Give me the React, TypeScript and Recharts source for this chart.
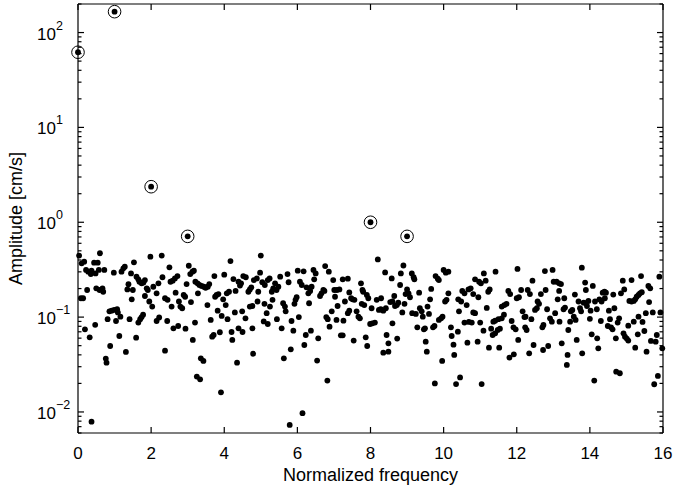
import React from 'react';
import { ScatterChart, Scatter, XAxis, YAxis } from 'recharts';

const FONT = '"Liberation Sans", Arial, Helvetica, sans-serif';

const xTicks = [0, 2, 4, 6, 8, 10, 12, 14, 16];
const yMajorTicks = [0.01, 0.1, 1, 10, 100];
const yAllTicks = [
  0.006, 0.007, 0.008, 0.009, 0.01,
  0.02, 0.03, 0.04, 0.05, 0.06, 0.07, 0.08, 0.09, 0.1,
  0.2, 0.3, 0.4, 0.5, 0.6, 0.7, 0.8, 0.9, 1,
  2, 3, 4, 5, 6, 7, 8, 9, 10,
  20, 30, 40, 50, 60, 70, 80, 90, 100, 200,
];

// [normalized frequency, amplitude cm/s]
const band0to2: [number, number][] = [
  [0.03,0.445],[0.10,0.369],[0.17,0.384],[0.08,0.158],[0.14,0.158],[0.19,0.0743],[0.25,0.193],[0.22,0.314],[0.28,0.301],[0.35,0.284],[0.37,0.309],[0.32,0.0612],[0.44,0.375],[0.54,0.375],[0.48,0.289],[0.57,0.314],[0.47,0.083],[0.50,0.201],[0.59,0.193],[0.67,0.201],[0.69,0.185],[0.60,0.471],[0.72,0.314],[0.76,0.0365],[0.78,0.0331],[0.81,0.095],[0.86,0.115],[0.92,0.117],[0.99,0.119],[1.07,0.121],[1.09,0.112],[1.16,0.101],[0.88,0.0496],[0.98,0.294],[1.04,0.091],[1.13,0.0632],[1.19,0.301],[1.24,0.327],[1.28,0.340],[1.31,0.0429],[1.35,0.196],[1.38,0.222],[1.41,0.095],[1.47,0.154],[1.50,0.193],[1.53,0.378],[1.45,0.289],[1.59,0.0607],[1.60,0.267],[1.65,0.250],[1.68,0.236],[1.74,0.227],[1.79,0.231],[1.83,0.246],[1.65,0.0875],[1.70,0.095],[1.74,0.100],[1.78,0.106],[1.83,0.167],[1.88,0.201],[1.91,0.193],[1.95,0.146],[1.98,0.434],[2.03,0.129],[2.06,0.209],[0.37,0.0079],
];
const band2to5: [number, number][] = [
  [2.29,0.445],[2.20,0.227],[2.31,0.263],[2.15,0.178],[2.38,0.158],[2.45,0.152],[2.56,0.129],[2.22,0.099],[2.15,0.091],[2.44,0.091],[2.50,0.335],[2.38,0.0443],[2.53,0.236],[2.59,0.242],[2.65,0.256],[2.72,0.271],[2.61,0.0762],[2.74,0.0806],[2.94,0.0756],[2.67,0.181],[2.76,0.146],[2.80,0.129],[2.85,0.124],[2.89,0.171],[2.93,0.164],[2.97,0.223],[3.03,0.348],[3.07,0.284],[3.13,0.301],[3.17,0.309],[3.09,0.144],[3.14,0.0574],[3.20,0.0875],[3.21,0.236],[3.27,0.227],[3.32,0.218],[3.38,0.213],[3.44,0.209],[3.49,0.204],[3.55,0.209],[3.59,0.223],[3.28,0.178],[3.36,0.0368],[3.43,0.0345],[3.25,0.0236],[3.34,0.0221],[3.54,0.134],[3.63,0.0933],[3.67,0.0622],[3.71,0.0648],[3.73,0.271],[3.75,0.164],[3.79,0.171],[3.84,0.175],[3.82,0.117],[3.88,0.0692],[3.93,0.103],[3.91,0.0161],[3.97,0.154],[4.00,0.280],[4.04,0.134],[4.07,0.178],[4.13,0.185],[4.09,0.095],[4.17,0.390],[4.20,0.0697],[4.22,0.0574],[4.25,0.252],[4.29,0.112],[4.31,0.189],[4.35,0.0331],[4.39,0.236],[4.43,0.215],[4.46,0.227],[4.39,0.0762],[4.49,0.115],[4.50,0.0697],[4.52,0.271],[4.59,0.263],[4.58,0.097],[4.66,0.185],[4.70,0.196],[4.74,0.206],[4.70,0.129],[4.77,0.131],[4.77,0.0762],[4.79,0.0411],[4.81,0.246],
];
const band5to7: [number, number][] = [
  [5.00,0.445],[4.98,0.294],[4.89,0.256],[4.93,0.185],[4.91,0.146],[5.04,0.233],[5.11,0.218],[5.19,0.246],[5.24,0.256],[5.10,0.138],[5.16,0.110],[5.25,0.129],[5.08,0.090],[5.19,0.0846],[5.30,0.185],[5.34,0.201],[5.39,0.227],[5.43,0.193],[5.48,0.209],[5.53,0.267],[5.32,0.152],[5.44,0.095],[5.57,0.0762],[5.61,0.140],[5.66,0.129],[5.68,0.115],[5.63,0.0368],[5.73,0.284],[5.76,0.233],[5.82,0.0457],[5.84,0.091],[5.89,0.0720],[5.92,0.138],[5.95,0.152],[5.98,0.162],[6.01,0.309],[6.17,0.304],[6.04,0.100],[6.07,0.236],[6.12,0.218],[6.14,0.0097],[5.79,0.0073],[6.19,0.0508],[6.23,0.0648],[6.25,0.206],[6.30,0.178],[6.35,0.189],[6.39,0.209],[6.32,0.140],[6.37,0.0720],[6.44,0.314],[6.50,0.289],[6.46,0.250],[6.54,0.0348],[6.57,0.0598],[6.62,0.167],[6.66,0.178],[6.71,0.193],[6.74,0.189],[6.76,0.345],[6.79,0.100],[6.83,0.095],[6.86,0.301],[6.88,0.0793],[6.82,0.0214],[6.94,0.115],[6.98,0.246],[7.01,0.193],[7.03,0.164],[7.08,0.193],[7.15,0.196],[7.07,0.0933],[7.10,0.131],[7.19,0.0643],[7.24,0.0643],[7.24,0.250],[7.38,0.254],[7.26,0.0918],[7.30,0.146],[7.38,0.110],[7.42,0.117],[7.42,0.182],[7.47,0.158],[7.51,0.154],[7.54,0.0565],[7.56,0.152],
];
const band8to10: [number, number][] = [
  [7.62,0.115],[7.67,0.101],[7.71,0.097],[7.74,0.227],[7.78,0.193],[7.80,0.185],[7.76,0.138],[7.83,0.134],[7.87,0.0612],[7.91,0.0496],[7.90,0.171],[7.94,0.158],[7.99,0.0846],[8.05,0.0860],[8.12,0.0875],[8.03,0.124],[8.17,0.152],[8.29,0.158],[8.20,0.406],[8.23,0.119],[8.28,0.121],[8.35,0.117],[8.42,0.124],[8.35,0.0422],[8.49,0.0432],[8.40,0.296],[8.44,0.0648],[8.49,0.0529],[8.54,0.144],[8.60,0.146],[8.58,0.256],[8.60,0.0860],[8.65,0.167],[8.67,0.131],[8.72,0.134],[8.76,0.142],[8.73,0.0594],[8.81,0.218],[8.83,0.289],[8.87,0.112],[8.90,0.350],[8.93,0.138],[8.96,0.175],[9.00,0.196],[9.04,0.178],[9.08,0.162],[9.13,0.289],[9.14,0.110],[9.18,0.263],[9.20,0.250],[9.24,0.108],[9.28,0.0780],[9.33,0.181],[9.35,0.124],[9.40,0.115],[9.43,0.101],[9.46,0.0743],[9.49,0.0762],[9.51,0.0551],[9.54,0.0432],[9.56,0.129],[9.60,0.108],[9.63,0.154],[9.66,0.198],[9.71,0.0780],[9.75,0.0806],[9.76,0.0200],[9.78,0.271],[9.84,0.254],[9.87,0.246],[9.87,0.0933],[9.93,0.097],[9.97,0.101],[9.96,0.0345],[10.00,0.314],[10.06,0.294],[10.13,0.301],[10.04,0.146],[10.08,0.152],[10.13,0.178],[10.20,0.0780],[10.22,0.0632],[10.27,0.0512],[10.29,0.0399],
];
const band10to13: [number, number][] = [
  [10.34,0.0197],[10.39,0.0702],[10.45,0.0231],[10.40,0.154],[10.48,0.146],[10.42,0.115],[10.51,0.189],[10.57,0.178],[10.63,0.134],[10.57,0.0875],[10.69,0.0889],[10.77,0.0875],[10.81,0.112],[10.86,0.110],[10.65,0.0538],[10.68,0.196],[10.74,0.201],[10.81,0.175],[10.86,0.250],[10.97,0.236],[11.02,0.227],[11.10,0.289],[11.15,0.242],[10.93,0.0551],[10.95,0.162],[11.00,0.0875],[11.04,0.0197],[11.09,0.0720],[11.18,0.125],[11.22,0.185],[11.26,0.196],[11.24,0.0476],[11.30,0.0756],[11.34,0.0648],[11.41,0.0675],[11.36,0.0896],[11.41,0.0918],[11.50,0.095],[11.59,0.097],[11.65,0.106],[11.42,0.301],[11.48,0.0731],[11.54,0.0756],[11.52,0.0476],[11.59,0.129],[11.66,0.134],[11.72,0.138],[11.77,0.189],[11.82,0.175],[11.80,0.0374],[11.92,0.0405],[11.86,0.091],[11.91,0.0780],[11.97,0.0743],[12.00,0.158],[12.06,0.162],[12.02,0.322],[12.04,0.0574],[12.12,0.193],[12.16,0.115],[12.21,0.100],[12.24,0.101],[12.23,0.0780],[12.27,0.0731],[12.30,0.193],[12.36,0.175],[12.34,0.0415],[12.40,0.095],[12.43,0.242],[12.46,0.0508],[12.50,0.119],[12.55,0.124],[12.57,0.146],[12.61,0.138],[12.66,0.175],[12.70,0.0780],[12.73,0.0826],[12.72,0.0450],[12.77,0.306],[12.79,0.193],[12.83,0.121],[12.86,0.0496],[12.91,0.097],[12.96,0.0896],[12.98,0.314],[13.01,0.236],
];
const band13to16: [number, number][] = [
  [13.09,0.236],[13.16,0.227],[13.21,0.223],[13.12,0.154],[13.16,0.189],[13.05,0.110],[13.17,0.0896],[13.23,0.0529],[13.28,0.121],[13.32,0.126],[13.30,0.158],[13.37,0.0313],[13.39,0.0399],[13.41,0.0731],[13.46,0.0896],[13.48,0.115],[13.52,0.119],[13.56,0.101],[13.61,0.0933],[13.59,0.173],[13.64,0.0574],[13.69,0.146],[13.73,0.124],[13.76,0.115],[13.78,0.332],[13.79,0.0415],[13.83,0.142],[13.89,0.140],[13.87,0.231],[13.89,0.193],[13.92,0.131],[13.96,0.148],[14.00,0.096],[14.02,0.117],[14.05,0.0659],[14.08,0.213],[14.12,0.0214],[14.14,0.146],[14.19,0.121],[14.20,0.0598],[14.23,0.0469],[14.26,0.154],[14.30,0.091],[14.32,0.146],[14.35,0.181],[14.40,0.185],[14.44,0.181],[14.41,0.158],[14.49,0.0806],[14.52,0.117],[14.55,0.095],[14.58,0.0780],[14.62,0.0743],[14.64,0.173],[14.67,0.124],[14.71,0.0598],[14.72,0.0266],[14.82,0.0256],[14.76,0.0875],[14.80,0.097],[14.85,0.178],[14.90,0.242],[14.94,0.196],[14.92,0.0675],[14.96,0.0622],[15.01,0.0594],[15.05,0.0565],[15.05,0.0812],[15.08,0.148],[15.14,0.146],[15.20,0.148],[15.24,0.154],[15.28,0.164],[15.33,0.171],[15.37,0.178],[15.42,0.183],[15.14,0.246],[15.20,0.0896],[15.24,0.0476],[15.33,0.101],[15.31,0.0659],[15.40,0.271],[15.44,0.0889],[15.49,0.0714],[15.53,0.110],[15.55,0.0432],[15.60,0.213],[15.65,0.201],[15.62,0.144],[15.67,0.0561],[15.80,0.0551],[15.72,0.112],[15.76,0.0196],[15.83,0.0648],[15.86,0.0240],[15.90,0.267],[15.93,0.112],[15.98,0.0469],
];

// harmonic peaks (circled)
const peakFrequency = [0, 1, 2, 3, 8, 9];
const peakAmplitude = [62, 166, 2.37, 0.71, 1.0, 0.71];

const spectrum = [...band0to2, ...band2to5, ...band5to7, ...band8to10, ...band10to13, ...band13to16]
  .map(([f, a]) => ({ f, a }));
const peaks = peakFrequency.map((f, i) => ({ f, a: peakAmplitude[i] }));

const Dot = (p: any) => <circle cx={p.cx} cy={p.cy} r={2.9} fill="#000" />;
const PeakDot = (p: any) => (
  <g>
    <circle cx={p.cx} cy={p.cy} r={6.3} fill="none" stroke="#000" strokeWidth={1} />
    <circle cx={p.cx} cy={p.cy} r={2.9} fill="#000" />
  </g>
);

const renderXTickBottom = (p: any) => (
  <g>
    <path d={`M${p.x},${p.y}v-6`} stroke="#000" strokeWidth={1.2} fill="none" />
    <text x={p.x} y={p.y + 26} textAnchor="middle" fontSize={17} fontFamily={FONT} fill="#000">
      {p.payload.value}
    </text>
  </g>
);
const renderXTickTop = (p: any) => (
  <path d={`M${p.x},${p.y}v6`} stroke="#000" strokeWidth={1.2} fill="none" />
);
const isMajor = (v: number) => yMajorTicks.some((m) => Math.abs(m - v) / m < 1e-6);
const renderYTickLeft = (p: any) => {
  const v = p.payload.value;
  const major = isMajor(v);
  const exp = Math.round(Math.log10(v));
  const expText = exp < 0 ? '\u2212' + Math.abs(exp) : String(exp);
  return (
    <g>
      <path d={`M${p.x},${p.y}h${major ? 6 : 3.5}`} stroke="#000" strokeWidth={1.2} fill="none" />
      {major && (
        <text x={p.x - 41} y={p.y + 7} fontSize={17} fontFamily={FONT} fill="#000">
          10
          <tspan dy={-10} fontSize={12.5}>{expText}</tspan>
        </text>
      )}
    </g>
  );
};
const renderYTickRight = (p: any) => {
  const major = isMajor(p.payload.value);
  return <path d={`M${p.x},${p.y}h${major ? -6 : -3.5}`} stroke="#000" strokeWidth={1.2} fill="none" />;
};

const axisLineStyle = { stroke: '#000', strokeWidth: 1.2 };

export default function App() {
  return (
    <div style={{ position: 'absolute', left: 0, top: 0, width: 674, height: 496, background: '#fff' }}>
      <ScatterChart width={674} height={496} margin={{ top: 3, right: 10, bottom: 0, left: 0 }}>
        <XAxis
          xAxisId="b"
          type="number"
          dataKey="f"
          domain={[0, 16]}
          ticks={xTicks}
          interval={0}
          height={63}
          stroke="#000"
          tickSize={0}
          tickMargin={0}
          tickLine={false}
          axisLine={axisLineStyle}
          tick={renderXTickBottom}
        />
        <XAxis
          xAxisId="t"
          orientation="top"
          type="number"
          dataKey="f"
          domain={[0, 16]}
          ticks={xTicks}
          interval={0}
          height={1}
          stroke="#000"
          tickSize={0}
          tickMargin={0}
          tickLine={false}
          axisLine={axisLineStyle}
          tick={renderXTickTop}
        />
        <YAxis
          yAxisId="l"
          type="number"
          dataKey="a"
          scale="log"
          domain={[0.006, 200]}
          ticks={yAllTicks}
          interval={0}
          width={78}
          stroke="#000"
          tickSize={0}
          tickMargin={0}
          tickLine={false}
          axisLine={axisLineStyle}
          tick={renderYTickLeft}
        />
        <YAxis
          yAxisId="r"
          orientation="right"
          type="number"
          dataKey="a"
          scale="log"
          domain={[0.006, 200]}
          ticks={yAllTicks}
          interval={0}
          width={1}
          stroke="#000"
          tickSize={0}
          tickMargin={0}
          tickLine={false}
          axisLine={axisLineStyle}
          tick={renderYTickRight}
        />
        <Scatter xAxisId="b" yAxisId="l" data={spectrum} dataKey="a" shape={Dot} isAnimationActive={false} />
        <Scatter xAxisId="b" yAxisId="l" data={peaks} dataKey="a" shape={PeakDot} isAnimationActive={false} />
        <Scatter xAxisId="t" yAxisId="r" data={peaks} dataKey="a" shape={() => <g />} isAnimationActive={false} />
      </ScatterChart>
      <svg width={674} height={496} style={{ position: 'absolute', left: 0, top: 0, pointerEvents: 'none' }}>
        <text x={370.5} y={481} textAnchor="middle" fontSize={18} fontFamily={FONT} fill="#000">
          Normalized frequency
        </text>
        <text
          transform="translate(22, 218.5) rotate(-90)"
          textAnchor="middle"
          fontSize={18}
          fontFamily={FONT}
          fill="#000"
        >
          Amplitude [cm/s]
        </text>
      </svg>
    </div>
  );
}
